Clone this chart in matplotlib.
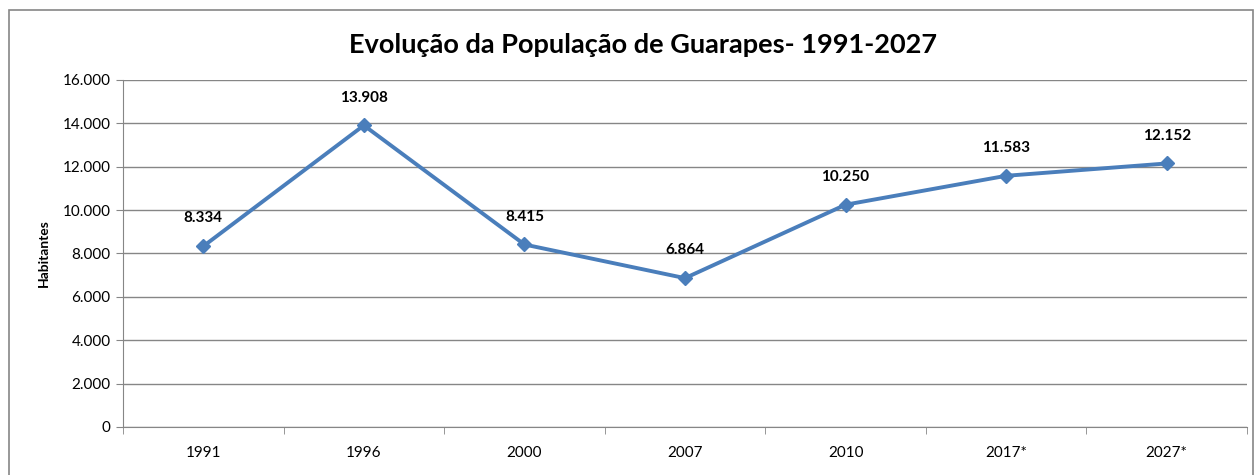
import matplotlib.pyplot as plt
from matplotlib.ticker import FuncFormatter, FixedLocator
from matplotlib.patches import Rectangle

# --- Data ---
anos = ["1991", "1996", "2000", "2007", "2010", "2017*", "2027*"]
habitantes = [8334, 13908, 8415, 6864, 10250, 11583, 12152]

LINE_COLOR = "#4a7ebb"
GRID_COLOR = "#868686"

plt.rcParams['font.family'] = ['Lato', 'DejaVu Sans']


def fmt_milhar(v, pos=None):
    return f"{int(v):,}".replace(",", ".")


fig = plt.figure(figsize=(12.55, 4.75), dpi=100)
ax = fig.add_axes([123 / 1255, 48 / 475, 1124 / 1255, 347 / 475])

x = list(range(len(anos)))
ax.plot(x, habitantes, color=LINE_COLOR, lw=2.8, marker="D", ms=7,
        markerfacecolor=LINE_COLOR, markeredgecolor=LINE_COLOR, zorder=3)

for xi, v in zip(x, habitantes):
    ax.annotate(fmt_milhar(v), (xi, v), xytext=(0, 15), textcoords="offset points",
                ha="center", va="bottom", fontsize=11, fontweight="bold")

ax.set_xlim(-0.5, len(anos) - 0.5)
ax.set_ylim(0, 16000)
ax.set_yticks(range(0, 16001, 2000))
ax.yaxis.set_major_formatter(FuncFormatter(fmt_milhar))
ax.grid(axis="y", color=GRID_COLOR, lw=1)
ax.set_axisbelow(True)

ax.set_xticks(x)
ax.set_xticklabels(anos)
ax.xaxis.set_minor_locator(FixedLocator([i - 0.5 for i in range(len(anos) + 1)]))
ax.tick_params(axis="x", which="major", length=0, pad=14, labelsize=11)
ax.tick_params(axis="x", which="minor", length=5, color=GRID_COLOR)
ax.tick_params(axis="y", length=5, color=GRID_COLOR, labelsize=11, pad=4)

for s in ["top", "right"]:
    ax.spines[s].set_visible(False)
ax.spines["left"].set_color(GRID_COLOR)
ax.spines["bottom"].set_color(GRID_COLOR)

ax.set_ylabel("Habitantes", fontsize=10, fontweight="bold", labelpad=9)

fig.text(0.512, 0.905, "Evolução da População de Guarapes- 1991-2027",
         ha="center", va="center", fontsize=19.5, fontweight="bold")

# outer chart frame
fig.patches.append(Rectangle((9 / 1255, -0.1), 1244 / 1255, (465 / 475) + 0.1,
                             transform=fig.transFigure, fill=False,
                             edgecolor=GRID_COLOR, lw=1.2))

fig.savefig("out.png", dpi=100)
